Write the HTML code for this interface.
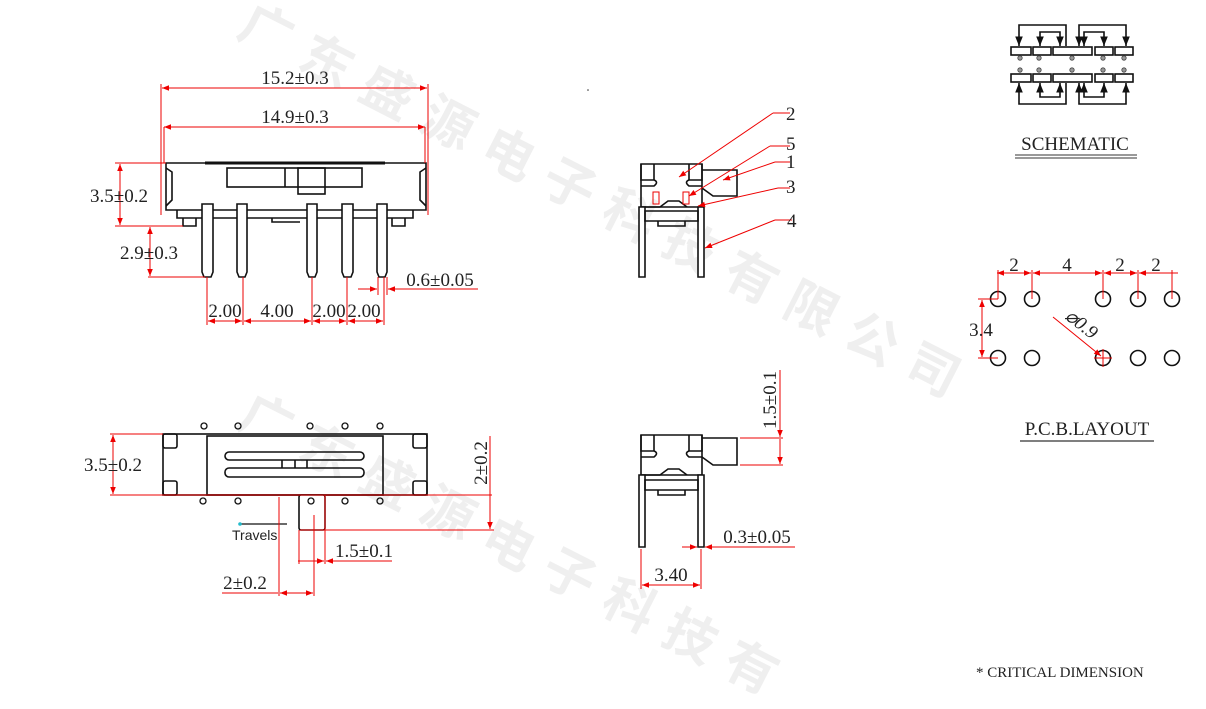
<!DOCTYPE html>
<html><head><meta charset="utf-8"><style>
html,body{margin:0;padding:0;background:#fff;width:1206px;height:709px;overflow:hidden}
svg{display:block}
.t{font-family:"Liberation Serif",serif;font-size:19px;fill:#222}
.k{stroke:#111;stroke-width:1.6;fill:none}
.r{stroke:#e00;stroke-width:1;fill:none}
</style></head><body>
<svg width="1206" height="709" viewBox="0 0 1206 709" xmlns="http://www.w3.org/2000/svg" overflow="hidden">
<defs>
<marker id="a" viewBox="0 0 10 10" refX="10" refY="5" markerWidth="9" markerHeight="7" orient="auto-start-reverse"><path d="M0,1 L10,5 L0,9z" fill="#e00"/></marker>
<marker id="b" viewBox="0 0 10 10" refX="10" refY="5" markerWidth="6" markerHeight="6" orient="auto-start-reverse"><path d="M0,1 L10,5 L0,9z" fill="#111"/></marker>
<clipPath id="c"><rect x="0" y="0" width="1206" height="709"/></clipPath>
</defs>
<!-- watermark -->
<g clip-path="url(#c)" fill="#efefef" font-family="'Noto Sans CJK SC',sans-serif" font-size="52" font-weight="bold">
<text transform="translate(235,35) rotate(27)" letter-spacing="16">广东盛源电子科技有限公司</text>
<text transform="translate(235,425) rotate(27)" letter-spacing="16">广东盛源电子科技有</text>
</g>

<!-- FRONT VIEW -->
<g class="k">
<path d="M166,163 H426 V210 H166 Z"/>
<path d="M177,210 V218 H413 V210"/>
<path d="M183,218 V226 H196 V218 M392,218 V226 H405 V218 M272,218 V222 H300"/>
<rect x="227" y="168" width="135" height="19"/>
<rect x="298" y="168" width="27" height="26"/>
<line x1="285" y1="168" x2="285" y2="187"/>
<line x1="205" y1="163" x2="385" y2="163" stroke-width="3"/>
<path d="M166,168 L172,172 V200 L166,206 M426,168 L420,172 V200 L426,206"/>
<path d="M202,204 H213 V272 L211,277 H204 L202,272 Z M237,204 H247 V272 L245,277 H239 L237,272 Z M307,204 H317 V272 L315,277 H309 L307,272 Z M342,204 H353 V272 L351,277 H344 L342,272 Z M377,204 H387 V272 L385,277 H379 L377,272 Z" fill="#fff"/>
</g>
<g class="r">
<line x1="161" y1="84" x2="161" y2="215"/><line x1="428" y1="84" x2="428" y2="215"/>
<line x1="162" y1="88" x2="427" y2="88" marker-start="url(#a)" marker-end="url(#a)"/>
<line x1="164" y1="127" x2="425" y2="127" marker-start="url(#a)" marker-end="url(#a)"/>
<line x1="164" y1="127" x2="164" y2="163"/><line x1="425" y1="127" x2="425" y2="163"/>
<line x1="115" y1="163" x2="166" y2="163"/><line x1="115" y1="226" x2="183" y2="226"/>
<line x1="120" y1="164" x2="120" y2="225" marker-start="url(#a)" marker-end="url(#a)"/>
<line x1="150" y1="227" x2="150" y2="276" marker-start="url(#a)" marker-end="url(#a)"/>
<line x1="148" y1="277" x2="205" y2="277"/>
<line x1="207" y1="277" x2="207" y2="325"/><line x1="243" y1="277" x2="243" y2="325"/>
<line x1="312" y1="277" x2="312" y2="325"/><line x1="347" y1="277" x2="347" y2="325"/>
<line x1="384" y1="277" x2="384" y2="325"/><line x1="378" y1="277" x2="378" y2="295"/><line x1="387" y1="277" x2="387" y2="295"/>
<line x1="208" y1="321" x2="242" y2="321" marker-start="url(#a)" marker-end="url(#a)"/>
<line x1="244" y1="321" x2="311" y2="321" marker-start="url(#a)" marker-end="url(#a)"/>
<line x1="313" y1="321" x2="346" y2="321" marker-start="url(#a)" marker-end="url(#a)"/>
<line x1="348" y1="321" x2="383" y2="321" marker-start="url(#a)" marker-end="url(#a)"/>
<line x1="358" y1="289" x2="377" y2="289" marker-end="url(#a)"/>
<line x1="478" y1="289" x2="388" y2="289" marker-end="url(#a)"/>
</g>
<text class="t" x="295" y="84" text-anchor="middle">15.2±0.3</text>
<text class="t" x="295" y="123" text-anchor="middle">14.9±0.3</text>
<text class="t" x="119" y="202" text-anchor="middle">3.5±0.2</text>
<text class="t" x="149" y="259" text-anchor="middle">2.9±0.3</text>
<text class="t" x="225" y="317" text-anchor="middle">2.00</text>
<text class="t" x="277" y="317" text-anchor="middle">4.00</text>
<text class="t" x="329" y="317" text-anchor="middle">2.00</text>
<text class="t" x="364" y="317" text-anchor="middle">2.00</text>
<text class="t" x="440" y="286" text-anchor="middle">0.6±0.05</text>
<circle cx="588" cy="90" r="0.8" fill="#333"/>

<!-- TOP VIEW -->
<g class="k">
<rect x="163" y="434" width="264" height="61"/>
<rect x="207" y="436" width="176" height="59"/>
<rect x="225" y="452" width="139" height="8" rx="4"/>
<rect x="225" y="468" width="139" height="9" rx="4"/>
<path d="M282,460 V468 M295,460 V468 M307,460 V468"/>
<rect x="163" y="434" width="14" height="14" rx="2"/><rect x="163" y="481" width="14" height="14" rx="2"/>
<rect x="413" y="434" width="14" height="14" rx="2"/><rect x="413" y="481" width="14" height="14" rx="2"/>
<rect x="299" y="495" width="26" height="35" rx="2" fill="#fff"/>
<g stroke-width="1.3">
<circle cx="204" cy="426" r="3"/><circle cx="238" cy="426" r="3"/><circle cx="310" cy="426" r="3"/><circle cx="345" cy="426" r="3"/><circle cx="380" cy="426" r="3"/>
<circle cx="203" cy="501" r="3"/><circle cx="238" cy="501" r="3"/><circle cx="311" cy="501" r="3"/><circle cx="345" cy="501" r="3"/><circle cx="380" cy="501" r="3"/>
</g>
<line x1="240" y1="524" x2="287" y2="524" stroke-width="1.3"/>
</g>
<circle cx="240" cy="524" r="1.8" fill="#2bc"/>
<text x="232" y="540" font-family="Liberation Sans,sans-serif" font-size="14" fill="#222">Travels</text>
<g class="r">
<line x1="110" y1="434" x2="163" y2="434"/><line x1="110" y1="495" x2="492" y2="495"/>
<line x1="113" y1="435" x2="113" y2="494" marker-start="url(#a)" marker-end="url(#a)"/>
<line x1="300" y1="530" x2="494" y2="530"/>
<line x1="490" y1="436" x2="490" y2="529" marker-end="url(#a)"/>
<line x1="299" y1="530" x2="299" y2="564"/><line x1="325" y1="495" x2="325" y2="564"/>
<line x1="298" y1="561" x2="324" y2="561" marker-end="url(#a)"/>
<line x1="392" y1="561" x2="326" y2="561" marker-end="url(#a)"/>
<line x1="279" y1="497" x2="279" y2="596"/><line x1="314" y1="515" x2="314" y2="596"/>
<line x1="222" y1="593" x2="278" y2="593"/>
<line x1="280" y1="593" x2="313" y2="593" marker-start="url(#a)" marker-end="url(#a)"/>
</g>
<text class="t" x="113" y="471" text-anchor="middle">3.5±0.2</text>
<text class="t" transform="translate(487,463) rotate(-90)" text-anchor="middle">2±0.2</text>
<text class="t" x="364" y="557" text-anchor="middle">1.5±0.1</text>
<text class="t" x="245" y="589" text-anchor="middle">2±0.2</text>

<!-- SIDE VIEW TOP -->
<g class="k" stroke-width="1.4">
<path d="M641,164 H702 V207 H641 Z"/>
<path d="M641,164 V180 H654 Q659,182 654,186 H641 M702,164 V180 H689 Q684,182 689,186 H702"/>
<path d="M654,164 V180 M689,164 V180"/>
<path d="M641,207 H660 L668,201 H679 L687,207"/>
<path d="M702,170 H737 V196 H713 L702,188"/>
<path d="M639,207 H645 V277 H639 Z M698,207 H704 V277 H698 Z" fill="#fff"/>
<path d="M645,211 H698 V221 H645 Z M658,221 V226 H685 V221"/>
</g>
<g class="r">
<rect x="653" y="192" width="6" height="12"/><rect x="683" y="192" width="6" height="12"/>
<path d="M773,113 H790"/><line x1="773" y1="113" x2="679" y2="177" marker-end="url(#a)"/>
<path d="M770,146 H790"/><line x1="770" y1="146" x2="689" y2="196" marker-end="url(#a)"/>
<path d="M775,162 H790"/><line x1="775" y1="162" x2="723" y2="180" marker-end="url(#a)"/>
<path d="M778,188 H790"/><line x1="778" y1="188" x2="698" y2="206" marker-end="url(#a)"/>
<path d="M775,220 H792"/><line x1="775" y1="220" x2="705" y2="248" marker-end="url(#a)"/>
</g>
<text class="t" x="786" y="120" font-size="18">2</text>
<text class="t" x="786" y="150" font-size="18">5</text>
<text class="t" x="786" y="168" font-size="18">1</text>
<text class="t" x="786" y="193" font-size="18">3</text>
<text class="t" x="787" y="227" font-size="18">4</text>

<!-- SIDE VIEW BOTTOM -->
<g class="k" stroke-width="1.4">
<path d="M641,435 H702 V475 H641 Z"/>
<path d="M641,435 V451 H654 Q659,453 654,457 H641 M702,435 V451 H689 Q684,453 689,457 H702"/>
<path d="M654,435 V451 M689,435 V451"/>
<path d="M641,475 H660 L668,469 H679 L687,475"/>
<path d="M702,438 H737 V465 H713 L702,457"/>
<path d="M639,475 H645 V547 H639 Z M698,475 H704 V547 H698 Z" fill="#fff"/>
<path d="M645,480 H698 V490 H645 Z M658,490 V495 H685 V490"/>
</g>
<g class="r">
<line x1="740" y1="438" x2="783" y2="438"/><line x1="740" y1="465" x2="783" y2="465"/>
<line x1="780" y1="370" x2="780" y2="437" marker-end="url(#a)"/>
<line x1="780" y1="439" x2="780" y2="464" marker-end="url(#a)"/>
<line x1="682" y1="547" x2="697" y2="547" marker-end="url(#a)"/>
<line x1="795" y1="547" x2="705" y2="547" marker-end="url(#a)"/>
<line x1="641" y1="549" x2="641" y2="589"/><line x1="701" y1="549" x2="701" y2="589"/>
<line x1="642" y1="585" x2="700" y2="585" marker-start="url(#a)" marker-end="url(#a)"/>
</g>
<text class="t" transform="translate(776,400) rotate(-90)" text-anchor="middle">1.5±0.1</text>
<text class="t" x="757" y="543" text-anchor="middle">0.3±0.05</text>
<text class="t" x="671" y="581" text-anchor="middle">3.40</text>

<!-- SCHEMATIC -->
<g class="k" stroke-width="1.2">
<rect x="1011" y="47" width="20" height="8"/><rect x="1033" y="47" width="18" height="8"/><rect x="1053" y="47" width="39" height="8"/><rect x="1095" y="47" width="18" height="8"/><rect x="1115" y="47" width="18" height="8"/>
<rect x="1011" y="74" width="20" height="8"/><rect x="1033" y="74" width="18" height="8"/><rect x="1053" y="74" width="39" height="8"/><rect x="1095" y="74" width="18" height="8"/><rect x="1115" y="74" width="18" height="8"/>
<path d="M1019,46 V25 H1066 V46" marker-start="url(#b)"/><path d="M1040,46 V32 H1060 V46" marker-start="url(#b)" marker-end="url(#b)"/>
<path d="M1079,46 V25 H1126 V46" marker-start="url(#b)" marker-end="url(#b)"/><path d="M1084,46 V32 H1104 V46" marker-start="url(#b)" marker-end="url(#b)"/>
<path d="M1019,83 V104 H1066 V83" marker-start="url(#b)"/><path d="M1040,83 V97 H1060 V83" marker-start="url(#b)" marker-end="url(#b)"/>
<path d="M1079,83 V104 H1126 V83" marker-start="url(#b)" marker-end="url(#b)"/><path d="M1084,83 V97 H1104 V83" marker-start="url(#b)" marker-end="url(#b)"/>
</g>
<g fill="#999" stroke="#444" stroke-width="0.8">
<circle cx="1020" cy="58" r="2.2"/><circle cx="1039" cy="58" r="2.2"/><circle cx="1072" cy="58" r="2.2"/><circle cx="1103" cy="58" r="2.2"/><circle cx="1124" cy="58" r="2.2"/>
<circle cx="1020" cy="70" r="2.2"/><circle cx="1039" cy="70" r="2.2"/><circle cx="1072" cy="70" r="2.2"/><circle cx="1103" cy="70" r="2.2"/><circle cx="1124" cy="70" r="2.2"/>
</g>
<text class="t" x="1075" y="150" text-anchor="middle" font-size="18">SCHEMATIC</text>
<line x1="1015" y1="155" x2="1137" y2="155" stroke="#333"/><line x1="1015" y1="158" x2="1137" y2="158" stroke="#333"/>

<!-- PCB -->
<g class="k" stroke-width="1.4">
<circle cx="998" cy="299" r="7.5"/><circle cx="1032" cy="299" r="7.5"/><circle cx="1103" cy="299" r="7.5"/><circle cx="1138" cy="299" r="7.5"/><circle cx="1172" cy="299" r="7.5"/>
<circle cx="998" cy="358" r="7.5"/><circle cx="1032" cy="358" r="7.5"/><circle cx="1103" cy="358" r="7.5"/><circle cx="1138" cy="358" r="7.5"/><circle cx="1172" cy="358" r="7.5"/>
</g>
<g class="r">
<line x1="997" y1="273" x2="1031" y2="273" marker-start="url(#a)" marker-end="url(#a)"/>
<line x1="1033" y1="273" x2="1102" y2="273" marker-start="url(#a)" marker-end="url(#a)"/>
<line x1="1104" y1="273" x2="1137" y2="273" marker-start="url(#a)" marker-end="url(#a)"/>
<line x1="1139" y1="273" x2="1178" y2="273" marker-start="url(#a)"/>
<line x1="998" y1="270" x2="998" y2="299"/><line x1="1032" y1="270" x2="1032" y2="299"/><line x1="1103" y1="270" x2="1103" y2="299"/><line x1="1138" y1="270" x2="1138" y2="299"/><line x1="1172" y1="270" x2="1172" y2="299"/>
<line x1="978" y1="299" x2="998" y2="299"/><line x1="978" y1="358" x2="998" y2="358"/>
<line x1="982" y1="300" x2="982" y2="357" marker-start="url(#a)" marker-end="url(#a)"/>
<line x1="1053" y1="317" x2="1101" y2="356" marker-end="url(#a)"/>
<line x1="1094" y1="358" x2="1112" y2="358"/><line x1="1103" y1="349" x2="1103" y2="367"/>
</g>
<text class="t" x="1014" y="271" text-anchor="middle">2</text>
<text class="t" x="1067" y="271" text-anchor="middle">4</text>
<text class="t" x="1120" y="271" text-anchor="middle">2</text>
<text class="t" x="1156" y="271" text-anchor="middle">2</text>
<text class="t" x="981" y="336" text-anchor="middle">3.4</text>
<text class="t" transform="translate(1064,318) rotate(38)" font-style="italic">⌀0.9</text>
<text class="t" x="1087" y="435" text-anchor="middle" font-size="19">P.C.B.LAYOUT</text>
<line x1="1020" y1="441" x2="1154" y2="441" stroke="#333" stroke-width="1.3"/>

<text x="976" y="677" font-family="Liberation Serif,serif" font-size="15" fill="#222">* CRITICAL  DIMENSION</text>
</svg>
</body></html>
